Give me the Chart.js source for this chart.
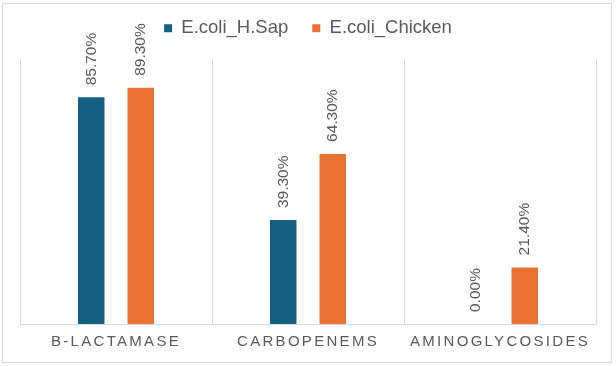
<!DOCTYPE html>
<html>
<head>
<meta charset="utf-8">
<script src="https://cdn.jsdelivr.net/npm/chart.js@4.4.1/dist/chart.umd.min.js"></script>
<style>
  html, body { margin: 0; padding: 0; background: #ffffff; }
  #box { width: 616px; height: 366px; }
</style>
</head>
<body>
<div id="box"><canvas id="myChart" width="616" height="366"></canvas></div>
<script>
var categorias = ['B-LACTAMASE', 'CARBOPENEMS', 'AMINOGLYCOSIDES']
var valoresHSap = [85.7, 39.3, 0]
var valoresChicken = [89.3, 64.3, 21.4]
var nomesSeries = ['E.coli_H.Sap', 'E.coli_Chicken']

var corTexto = '#595959'
var corGrade = '#d9d9d9'
var fonte = "'Liberation Sans', Arial, sans-serif"

// moldura cinza em volta do grafico
const moldura = {
    id: 'moldura',
    beforeDraw(chart) {
        const ctx = chart.ctx
        ctx.save()
        ctx.strokeStyle = corGrade
        ctx.lineWidth = 1
        ctx.strokeRect(2.5, 3.5, 609, 359)
        ctx.restore()
    }
}

// espaco extra entre a legenda e a area do grafico
const espacoLegenda = {
    id: 'espacoLegenda',
    beforeInit(chart) {
        const fitOriginal = chart.legend.fit
        chart.legend.fit = function () {
            fitOriginal.call(this)
            this.height += 12
        }
    }
}

// rotulos de valor na vertical em cima das barras
const rotulos = {
    id: 'rotulos',
    afterDatasetsDraw(chart) {
        const ctx = chart.ctx
        chart.data.datasets.forEach(function (dataset, i) {
            const meta = chart.getDatasetMeta(i)
            meta.data.forEach(function (barra, j) {
                const texto = Number(dataset.data[j]).toFixed(2) + '%'
                ctx.save()
                ctx.translate(barra.x, barra.y - 12)
                ctx.rotate(-Math.PI / 2)
                ctx.font = '15.5px ' + fonte
                ctx.fillStyle = corTexto
                ctx.textAlign = 'left'
                ctx.textBaseline = 'middle'
                ctx.fillText(texto, 0, 0)
                ctx.restore()
            })
        })
        // os nomes do eixo x sao desenhados depois (z: 1), com letras espacadas
        ctx.letterSpacing = '2.3px'
    },
    afterDraw(chart) {
        chart.ctx.letterSpacing = '0px'
    }
}

const dados = {
    labels: categorias,
    datasets: [{
        label: nomesSeries[0],
        backgroundColor: '#156082',
        borderWidth: 0,
        data: valoresHSap
    },
    {
        label: nomesSeries[1],
        backgroundColor: '#E97132',
        borderWidth: 0,
        data: valoresChicken
    }]
}

const config = {
    type: 'bar',
    data: dados,
    options: {
        responsive: false,
        animation: false,
        events: [],
        datasets: {
            bar: {
                categoryPercentage: 0.516,
                barPercentage: 0.535
            }
        },
        layout: {
            padding: { top: -5, left: 20, right: 20, bottom: 6 }
        },
        plugins: {
            legend: {
                position: 'top',
                labels: {
                    boxWidth: 8,
                    boxHeight: 8,
                    padding: 24,
                    color: corTexto,
                    font: { family: fonte, size: 18.5 }
                }
            },
            tooltip: { enabled: false }
        },
        scales: {
            x: {
                grid: {
                    display: true,
                    color: corGrade,
                    lineWidth: 1,
                    drawTicks: false,
                    offset: true
                },
                border: { display: true, color: corGrade, width: 1 },
                ticks: {
                    color: corTexto,
                    padding: 9,
                    z: 1,
                    font: { family: fonte, size: 15 }
                }
            },
            y: {
                display: false,
                min: 0,
                max: 100
            }
        }
    },
    plugins: [moldura, espacoLegenda, rotulos]
}

const meuGrafico = new Chart(document.getElementById('myChart'), config)
</script>
</body>
</html>
